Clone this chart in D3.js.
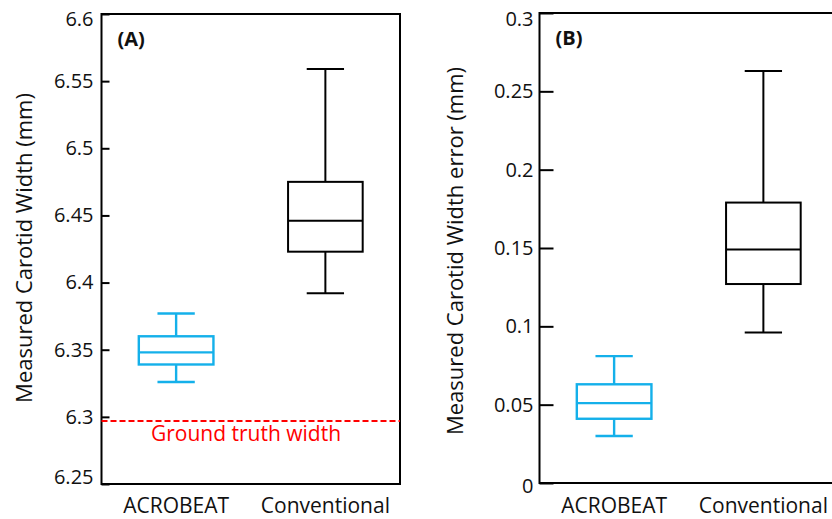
<!DOCTYPE html>
<html>
<head>
<meta charset="utf-8">
<script src="https://cdn.jsdelivr.net/npm/d3@7"></script>
<style>
  body { margin: 0; background: #fff; }
  text { font-family: "Open Sans", sans-serif; }
</style>
</head>
<body>
<svg id="chart" width="832" height="519"></svg>
<script>
// data: [min, q1, median, q3, max]
const categories = ["ACROBEAT", "Conventional"];
const widthStats = [
  [6.326, 6.339, 6.348, 6.360, 6.377],
  [6.392, 6.423, 6.446, 6.475, 6.559]
];
const errorStats = [
  [0.030, 0.041, 0.051, 0.063, 0.081],
  [0.096, 0.127, 0.149, 0.179, 0.263]
];
const widthTicks = [6.25, 6.3, 6.35, 6.4, 6.45, 6.5, 6.55, 6.6];
const errorTicks = [0, 0.05, 0.1, 0.15, 0.2, 0.25, 0.3];
const groundTruth = 6.297;

const boxColors = ["#14b0ea", "#000000"];
const boxWidths = [2.4, 2];
const svg = d3.select("#chart");

function drawPanel(p) {
  const g = svg.append("g").attr("class", "panel");

  const x = d3.scaleBand().domain(categories).range([p.left, p.right]);
  const y = d3.scaleLinear().domain(p.domain).range([p.bottom, p.top]);
  const bw = x.bandwidth();

  // y axis, ticks pointing inward
  const axis = g.append("g")
    .attr("transform", `translate(${p.left},0)`)
    .call(d3.axisLeft(y).tickValues(p.ticks).tickSize(-p.tickLen).tickPadding(p.pad).tickFormat(d => String(d)));
  axis.select(".domain").remove();
  axis.selectAll(".tick line").attr("stroke", "#000").attr("stroke-width", 2);
  axis.selectAll(".tick text")
    .attr("fill", "#111")
    .attr("font-size", "20px")
    .attr("y", (d, i) => i === 0 ? p.endShift[0] : (i === p.ticks.length - 1 ? p.endShift[1] : 0));

  // frame
  g.append("rect")
    .attr("x", p.left).attr("y", p.top)
    .attr("width", p.right - p.left).attr("height", p.bottom - p.top)
    .attr("fill", "none").attr("stroke", "#000").attr("stroke-width", 2);

  // boxes
  const boxes = g.selectAll("g.box")
    .data(p.stats)
    .join("g")
    .attr("class", "box")
    .attr("stroke", (d, i) => boxColors[i])
    .attr("stroke-width", (d, i) => boxWidths[i])
    .attr("fill", "none");

  const cx = (i) => x(categories[i]) + bw / 2;

  boxes.append("line") // upper whisker
    .attr("x1", (d, i) => cx(i)).attr("x2", (d, i) => cx(i))
    .attr("y1", d => y(d[4])).attr("y2", d => y(d[3]));
  boxes.append("line") // lower whisker
    .attr("x1", (d, i) => cx(i)).attr("x2", (d, i) => cx(i))
    .attr("y1", d => y(d[1])).attr("y2", d => y(d[0]));
  boxes.append("line") // top cap
    .attr("x1", (d, i) => cx(i) - bw * 0.125).attr("x2", (d, i) => cx(i) + bw * 0.125)
    .attr("y1", d => y(d[4])).attr("y2", d => y(d[4]));
  boxes.append("line") // bottom cap
    .attr("x1", (d, i) => cx(i) - bw * 0.125).attr("x2", (d, i) => cx(i) + bw * 0.125)
    .attr("y1", d => y(d[0])).attr("y2", d => y(d[0]));
  boxes.append("rect")
    .attr("x", (d, i) => cx(i) - bw * 0.25)
    .attr("width", bw * 0.5)
    .attr("y", d => y(d[3]))
    .attr("height", d => y(d[1]) - y(d[3]));
  boxes.append("line") // median
    .attr("x1", (d, i) => cx(i) - bw * 0.25).attr("x2", (d, i) => cx(i) + bw * 0.25)
    .attr("y1", d => y(d[2])).attr("y2", d => y(d[2]));

  // category labels
  g.selectAll("text.cat")
    .data(categories)
    .join("text")
    .attr("class", "cat")
    .attr("x", d => x(d) + bw / 2)
    .attr("y", 513)
    .attr("text-anchor", "middle")
    .attr("font-size", "21px")
    .attr("fill", "#111")
    .text(d => d);

  // panel tag
  g.append("text")
    .attr("x", p.left + 16).attr("y", p.top + 32)
    .attr("font-size", "20px").attr("font-weight", "bold")
    .attr("fill", "#111")
    .text(p.tag);

  // axis title
  g.append("text")
    .attr("transform", `translate(${p.titleX},${p.titleY}) rotate(-90)`)
    .attr("text-anchor", "middle")
    .attr("font-size", "22px")
    .attr("fill", "#111")
    .text(p.title);

  return { x, y, g };
}

const panelA = drawPanel({
  left: 101.5, right: 400, top: 14, bottom: 484,
  domain: [6.25, 6.6], ticks: widthTicks, stats: widthStats,
  tickLen: 8, pad: 8, endShift: [-7, 5],
  tag: "(A)", title: "Measured Carotid Width (mm)", titleX: 32, titleY: 248
});

// ground truth reference line
panelA.g.append("line")
  .attr("x1", 101.5).attr("x2", 400)
  .attr("y1", panelA.y(groundTruth)).attr("y2", panelA.y(groundTruth))
  .attr("stroke", "#ff0000").attr("stroke-width", 2)
  .attr("stroke-dasharray", "6,3");
panelA.g.append("text")
  .attr("x", 246).attr("y", panelA.y(groundTruth) + 20)
  .attr("text-anchor", "middle")
  .attr("font-size", "21px")
  .attr("fill", "#ff0000")
  .text("Ground truth width");

drawPanel({
  left: 539.5, right: 838, top: 13, bottom: 483,
  domain: [0, 0.3], ticks: errorTicks, stats: errorStats,
  tickLen: 14, pad: 6, endShift: [3, 6],
  tag: "(B)", title: "Measured Carotid Width error (mm)", titleX: 463, titleY: 251
});
</script>
</body>
</html>
